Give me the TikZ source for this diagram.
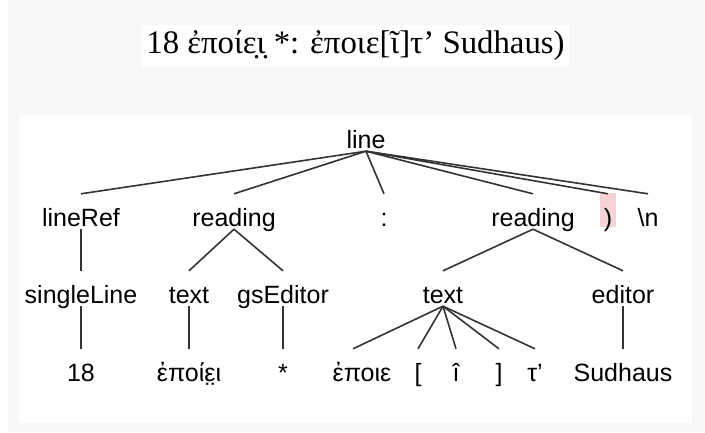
\documentclass[tikz,border=0pt]{standalone}
\usepackage{fontspec}
\setmainfont{Liberation Sans}
\newfontfamily\titlefont{Liberation Serif}
\definecolor{bggrey}{HTML}{F7F7F7}
\definecolor{edgegrey}{HTML}{333333}
\definecolor{hlpink}{HTML}{F3D3D3}
\begin{document}
\begin{tikzpicture}[x=1pt,y=-1pt,
  tn/.style={inner sep=0pt, anchor=base, text height=32pt, text depth=3pt,
             font=\fontsize{25}{30}\selectfont},
  edge/.style={draw=edgegrey, line width=1.6pt}]
\useasboundingbox (0,0) rectangle (705,432);
\fill[white] (0,0) rectangle (705,432);
\fill[bggrey] (8,0) rectangle (705,432);
\fill[white] (19,115) rectangle (692,423);
\fill[hlpink] (600,193) rectangle (616,227);
% title
\node[fill=white, inner sep=0pt, anchor=base, text height=28pt, text depth=14pt,
      minimum width=427pt, font=\titlefont\fontsize{32.8}{38}\selectfont]
  (title) at (355.5,53) {18 ἐποίε̣ι̣ *: ἐποιε[ῖ]τ’ Sudhaus)};
% level 0
\node[tn] (line) at (366,148) {line};
% level 1
\node[tn] (lr)  at (81,226)  {lineRef};
\node[tn] (r1)  at (234,226) {reading};
\node[tn] (col) at (384,226) {:};
\node[tn] (r2)  at (533,226) {reading};
\node[tn] (rp)  at (608,226) {)};
\node[tn] (nl)  at (648,226) {\textbackslash n};
% level 2
\node[tn] (sl) at (81,303)  {singleLine};
\node[tn] (t1) at (189,303) {text};
\node[tn] (gs) at (283,303) {gsEditor};
\node[tn] (t2) at (443,303) {text};
\node[tn] (ed) at (623,303) {editor};
% level 3
\node[tn] (n18) at (81,381)  {18};
\node[tn] (w1)  at (189,381) {ἐποίε̣ι̣};
\node[tn] (st)  at (283,381) {*};
\node[tn] (w2)  at (362,381) {ἐποιε};
\node[tn] (lb)  at (418,381) {[};
\node[tn] (ic)  at (456,381) {î};
\node[tn] (rb)  at (499,381) {]};
\node[tn] (tau) at (535,381) {τ’};
\node[tn] (sud) at (623,381) {Sudhaus};
% edges
\foreach \c in {lr,r1,col,r2,rp,nl} \draw[edge] (line.south) -- (\c.north);
\draw[edge] (lr.south) -- (sl.north);
\draw[edge] (sl.south) -- (n18.north);
\draw[edge] (r1.south) -- (t1.north);
\draw[edge] (r1.south) -- (gs.north);
\draw[edge] (t1.south) -- (w1.north);
\draw[edge] (gs.south) -- (st.north);
\draw[edge] (r2.south) -- (t2.north);
\draw[edge] (r2.south) -- (ed.north);
\draw[edge] (t2.south) -- ([xshift=-9pt]w2.north);
\foreach \c in {lb,ic,rb,tau} \draw[edge] (t2.south) -- (\c.north);
\draw[edge] (ed.south) -- (sud.north);
\end{tikzpicture}
\end{document}
